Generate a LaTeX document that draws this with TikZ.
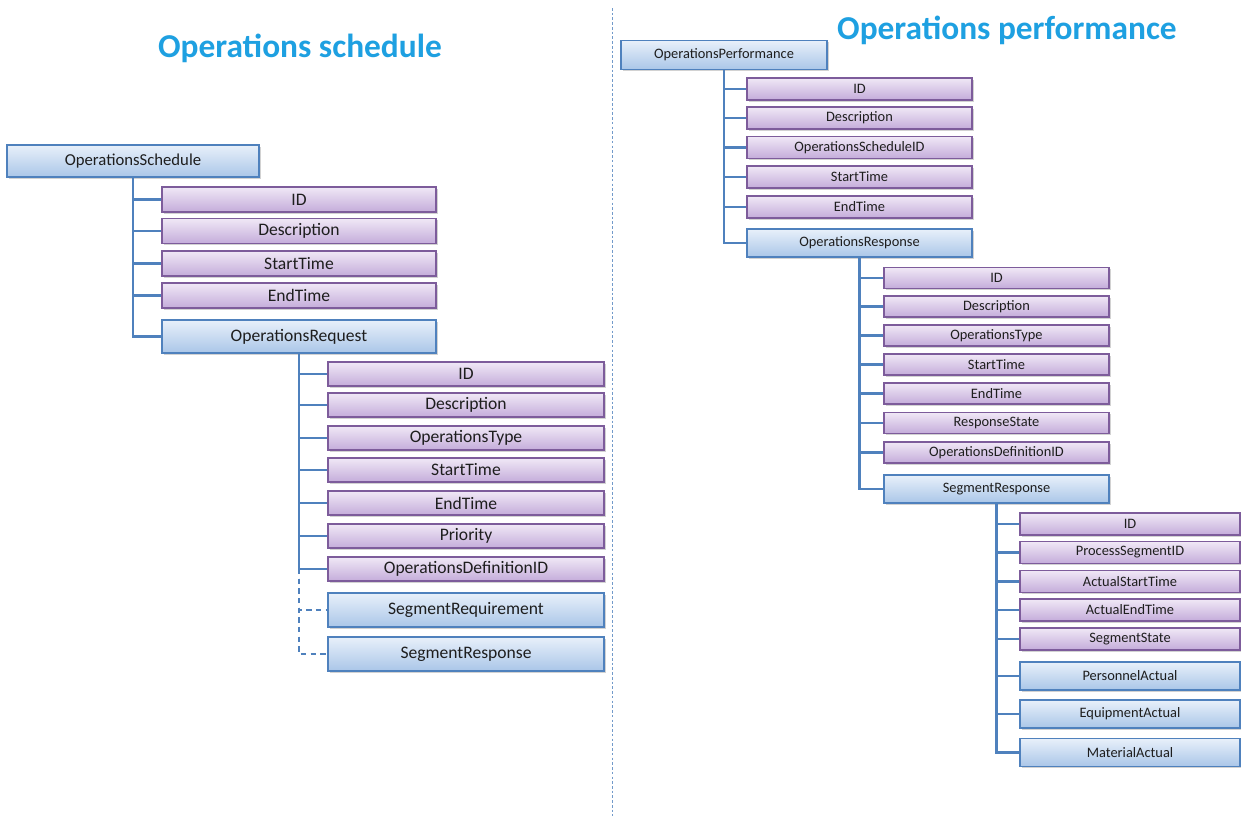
\documentclass[tikz,border=0pt]{standalone}
\usepackage{fontspec}
\setmainfont{Carlito}
\usetikzlibrary{shadows}
\definecolor{ttl}{RGB}{30,160,225}
\definecolor{pbd}{RGB}{125,92,155}
\definecolor{ptop}{RGB}{240,232,246}
\definecolor{pbot}{RGB}{196,172,218}
\definecolor{bbd}{RGB}{79,129,189}
\definecolor{btop}{RGB}{232,240,250}
\definecolor{bbot}{RGB}{170,198,232}
\definecolor{lnk}{RGB}{79,129,189}
\definecolor{txt}{RGB}{30,30,30}
\tikzset{
  boxbase/.style={draw, line width=1pt, inner sep=0pt, text=txt,
     drop shadow={opacity=0.35, shadow xshift=1pt, shadow yshift=-1pt}},
  pbox/.style 2 args={boxbase, draw=pbd, top color=ptop, bottom color=pbot,
     minimum width=#1*0.02cm, minimum height=#2*0.02cm},
  bbox/.style 2 args={boxbase, draw=bbd, top color=btop, bottom color=bbot,
     minimum width=#1*0.02cm, minimum height=#2*0.02cm},
  conn/.style={draw=lnk, line width=1.4pt},
  dconn/.style={conn, dash pattern=on 3pt off 2.5pt},
  title/.style={text=ttl, font=\fontsize{19}{22}\selectfont\bfseries},
  big/.style={font=\fontsize{10}{12}\selectfont},
  small/.style={font=\fontsize{8.2}{10}\selectfont},
}
\begin{document}
\begin{tikzpicture}[x=0.02cm, y=-0.02cm]
\useasboundingbox[fill=white] (0,0) rectangle (1241,816);
% divider
\draw[draw=lnk!80, line width=0.5pt, dash pattern=on 1.5pt off 1.2pt] (612,8) -- (612,816);
% titles
\node[title] (t1) at (300,48) {Operations schedule};
\node[title] (t2) at (1007,30) {Operations performance};

% ===== Left tree =====
\node[bbox={252}{32}, font=\fontsize{9.5}{11}\selectfont] (os) at (133,161) {OperationsSchedule};
\node[pbox={274}{25}, big] (osid) at (299,199.5) {ID};
\node[pbox={274}{25}, big] (osdesc) at (299,231) {Description};
\node[pbox={274}{25}, big] (osst) at (299,263.5) {StartTime};
\node[pbox={274}{25}, big] (oset) at (299,295.5) {EndTime};
\node[bbox={274}{33}, big] (oreq) at (299,336.5) {OperationsRequest};
\foreach \c in {osid,osdesc,osst,oset,oreq} \draw[conn] (os.south) |- (\c.west);

\node[pbox={276}{24}, big] (rid) at (466,374) {ID};
\node[pbox={276}{24}, big] (rdesc) at (466,405) {Description};
\node[pbox={276}{24}, big] (rtype) at (466,438) {OperationsType};
\node[pbox={276}{24}, big] (rst) at (466,470) {StartTime};
\node[pbox={276}{24}, big] (ret) at (466,503) {EndTime};
\node[pbox={276}{24}, big] (rpri) at (466,536) {Priority};
\node[pbox={276}{24}, big] (rodid) at (466,569) {OperationsDefinitionID};
\node[bbox={276}{34}, big] (rsreq) at (466,610) {SegmentRequirement};
\node[bbox={276}{34}, big] (rsresp) at (466,654) {SegmentResponse};
\foreach \c in {rid,rdesc,rtype,rst,ret,rpri,rodid} \draw[conn] (oreq.south) |- (\c.west);
\coordinate (rj) at (oreq.south |- rodid.west);
\draw[dconn] (rj) |- (rsreq.west);
\draw[dconn] (rj) |- (rsresp.west);

% ===== Right tree =====
\node[bbox={206}{29}, small] (op) at (724,55) {OperationsPerformance};
\node[pbox={225}{22}, small] (pid) at (859.5,89) {ID};
\node[pbox={225}{22}, small] (pdesc) at (859.5,118) {Description};
\node[pbox={225}{22}, small] (psid) at (859.5,147.5) {OperationsScheduleID};
\node[pbox={225}{22}, small] (pst) at (859.5,177) {StartTime};
\node[pbox={225}{22}, small] (pet) at (859.5,207) {EndTime};
\node[bbox={225}{28}, small] (oresp) at (859.5,243) {OperationsResponse};
\foreach \c in {pid,pdesc,psid,pst,pet,oresp} \draw[conn] (op.south) |- (\c.west);

\node[pbox={225}{21}, small] (qid) at (996.5,278) {ID};
\node[pbox={225}{21}, small] (qdesc) at (996.5,306.5) {Description};
\node[pbox={225}{21}, small] (qtype) at (996.5,335.5) {OperationsType};
\node[pbox={225}{21}, small] (qst) at (996.5,364.5) {StartTime};
\node[pbox={225}{21}, small] (qet) at (996.5,393.5) {EndTime};
\node[pbox={225}{21}, small] (qrs) at (996.5,423) {ResponseState};
\node[pbox={225}{21}, small] (qodid) at (996.5,452.5) {OperationsDefinitionID};
\node[bbox={225}{28}, small] (sresp) at (996.5,489) {SegmentResponse};
\foreach \c in {qid,qdesc,qtype,qst,qet,qrs,qodid,sresp} \draw[conn] (oresp.south) |- (\c.west);

\node[pbox={220}{22}, small] (sid) at (1130,524) {ID};
\node[pbox={220}{22}, small] (spsid) at (1130,552.5) {ProcessSegmentID};
\node[pbox={220}{22}, small] (sast) at (1130,581.5) {ActualStartTime};
\node[pbox={220}{22}, small] (saet) at (1130,610) {ActualEndTime};
\node[pbox={220}{22}, small] (sss) at (1130,639) {SegmentState};
\node[bbox={220}{28}, small] (spa) at (1130,676) {PersonnelActual};
\node[bbox={220}{28}, small] (sea) at (1130,714) {EquipmentActual};
\node[bbox={220}{28}, small] (sma) at (1130,752.5) {MaterialActual};
\foreach \c in {sid,spsid,sast,saet,sss,spa,sea,sma} \draw[conn] (sresp.south) |- (\c.west);
\end{tikzpicture}
\end{document}
